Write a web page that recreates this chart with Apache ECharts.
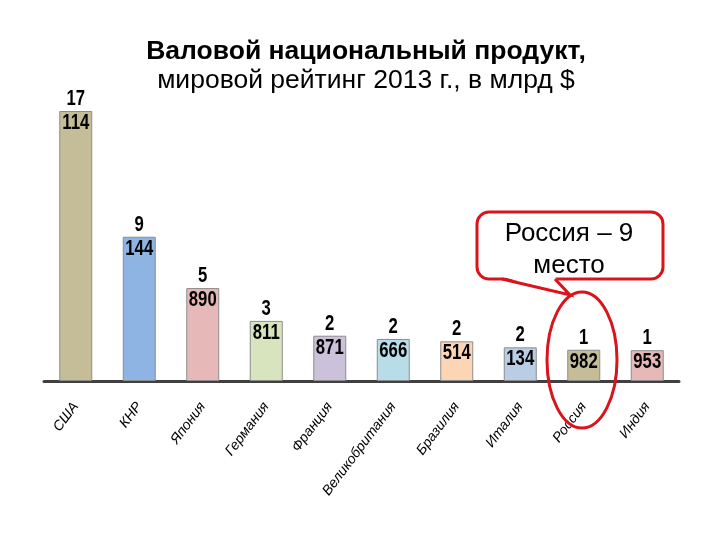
<!DOCTYPE html>
<html><head><meta charset="utf-8">
<script src="https://cdn.jsdelivr.net/npm/echarts@6/dist/echarts.min.js"></script>
<style>html,body{margin:0;padding:0;background:#fff}#c{width:720px;height:540px}</style>
</head><body><div id="c"></div>
<script>
const categories = ['США','КНР','Япония','Германия','Франция','Великобритания','Бразилия','Италия','Россия','Индия'];
const gdp = [17114, 9144, 5890, 3811, 2871, 2666, 2514, 2134, 1982, 1953];
const barColors = ['#c4bd97','#8eb4e3','#e6b9b8','#d7e4bd','#ccc1da','#b7dde8','#fcd5b5','#b9cde5','#c4bd97','#e6b9b8'];
const titleLines = ['Валовой национальный продукт,', 'мировой рейтинг 2013 г., в млрд $'];
const calloutText = 'Россия – 9\nместо';

const sans = '"Liberation Sans",Arial,sans-serif';
const red = '#d9141b';
const chart = echarts.init(document.getElementById('c'), null, {renderer:'canvas'});
chart.setOption({
  animation:false,
  backgroundColor:'#fff',
  title:{
    text:titleLines[0], subtext:titleLines[1], left:361, textAlign:'center', top:33, itemGap:1,
    textStyle:{fontFamily:sans, fontWeight:'bold', fontSize:26.5, lineHeight:28, color:'#000'},
    subtextStyle:{fontFamily:sans, fontWeight:'normal', fontSize:26.5, lineHeight:28, color:'#000'}
  },
  grid:{left:44, right:41, top:111, bottom:159},
  xAxis:{
    type:'category', data:categories,
    axisLine:{lineStyle:{color:'#404040', width:3}},
    axisTick:{show:false},
    axisLabel:{rotate:53, interval:0, margin:23, fontSize:14, fontStyle:'italic',
      fontFamily:sans, color:'#000'}
  },
  yAxis:{type:'value', min:0, max:17114, show:false, splitLine:{show:false}},
  series:[{
    type:'bar', barWidth:33,
    data: gdp.map((v,i)=>({value:v, itemStyle:{color:barColors[i]}})),
    itemStyle:{borderColor:'#8c8c8c', borderWidth:1}
  },{
    type:'custom', z:5,
    data: gdp.map((v,i)=>[i, v]),
    renderItem:(params, api) => {
      const v = api.value(1);
      const pt = api.coord([api.value(0), v]);
      const th = String(Math.floor(v/1000));
      const rest = String(v % 1000).padStart(3,'0');
      const mk = (t, y) => ({type:'text', x:pt[0], y:y, scaleX:0.76,
        style:{text:t, x:0, y:0, align:'center', verticalAlign:'middle',
          font:'bold 22px ' + sans, fill:'#000'}});
      return {type:'group', children:[mk(th, pt[1]-12), mk(rest, pt[1]+12)]};
    }
  }],
  graphic:[
    {type:'ellipse', shape:{cx:582, cy:360, rx:35, ry:68}, z:100,
     style:{fill:'none', stroke:red, lineWidth:3}},
    {type:'rect', z:101, shape:{x:477, y:212, width:186, height:67, r:12},
     style:{fill:'#fff', stroke:red, lineWidth:3}},
    {type:'polygon', z:102, shape:{points:[[503,277],[570,295],[555,277]]},
     style:{fill:'#fff', stroke:'none'}},
    {type:'polyline', z:103, shape:{points:[[502,279],[570,295],[555,279]]},
     style:{fill:'none', stroke:red, lineWidth:3}},
    {type:'text', z:104, x:569, y:250,
     style:{text:calloutText, align:'center', verticalAlign:'middle', lineHeight:32,
       font:'26px ' + sans, fill:'#000'}}
  ]
});
</script></body></html>
